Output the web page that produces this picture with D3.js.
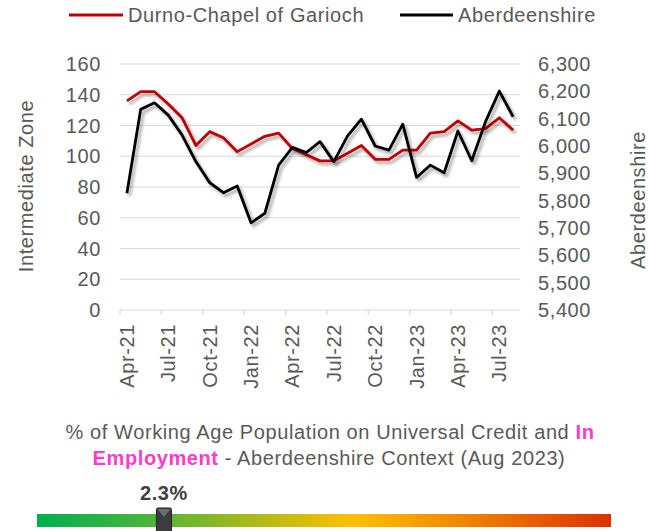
<!DOCTYPE html>
<html><head><meta charset="utf-8">
<script src="https://cdn.jsdelivr.net/npm/d3@7"></script>
<style>
body{margin:0;background:#fff;}
text{font-family:Arial,"Liberation Sans",sans-serif;letter-spacing:0.6px;}
</style></head>
<body><svg id="c" width="649" height="531"></svg>
<script>
const months = ["Apr-21","May-21","Jun-21","Jul-21","Aug-21","Sep-21","Oct-21","Nov-21","Dec-21","Jan-22","Feb-22","Mar-22","Apr-22","May-22","Jun-22","Jul-22","Aug-22","Sep-22","Oct-22","Nov-22","Dec-22","Jan-23","Feb-23","Mar-23","Apr-23","May-23","Jun-23","Jul-23","Aug-23"];
const zoneValues = [136,142,142,134,125,107,116,112,103,108,113,115,105,101,97,97,102,107,98,98,104,104,115,116,123,117,118,125,117];
const shireValues = [5827,6134,6158,6113,6040,5943,5866,5829,5854,5719,5754,5930,5995,5976,6016,5943,6037,6098,6000,5985,6080,5885,5930,5902,6055,5946,6089,6201,6107];
const leftTicks = [0,20,40,60,80,100,120,140,160];
const rightTicks = [5400,5500,5600,5700,5800,5900,6000,6100,6200,6300];
const seriesNames = ["Durno-Chapel of Garioch","Aberdeenshire"];
const seriesColors = ["#C00000","#000000"];
const gaugeValue = 2.3;
const gaugeDomain = [0, 10.4];

const svg = d3.select("#c");
const grey = "#595959";
const FS = "20px";
const L = 120, R = 520, T = 64, B = 310;

const defs = svg.append("defs");
const f = defs.append("filter").attr("id","sh").attr("x","-10%").attr("y","-10%").attr("width","120%").attr("height","130%");
f.append("feDropShadow").attr("dx",2.5).attr("dy",3).attr("stdDeviation",1.8).attr("flood-color","#000").attr("flood-opacity",0.35);

const x = d3.scaleBand().domain(months).range([L,R]).padding(0);
const yL = d3.scaleLinear().domain([0,160]).range([B,T]);
const yR = d3.scaleLinear().domain([5400,6300]).range([B,T]);

// gridlines
svg.append("g").selectAll("line").data(leftTicks.filter(d=>d>0)).join("line")
  .attr("x1",L).attr("x2",R).attr("y1",d=>yL(d)).attr("y2",d=>yL(d))
  .attr("stroke","#D9D9D9").attr("stroke-width",1.2);

// left axis labels
svg.append("g").selectAll("text").data(leftTicks).join("text")
  .attr("x",101).attr("y",d=>yL(d)).attr("dy","0.35em").attr("text-anchor","end")
  .attr("fill",grey).style("font-size",FS).text(d=>d);
// right axis labels
const fmt = d3.format(",");
svg.append("g").selectAll("text").data(rightTicks).join("text")
  .attr("x",538).attr("y",d=>yR(d)).attr("dy","0.35em").attr("text-anchor","start")
  .attr("fill",grey).style("font-size",FS).text(d=>fmt(d));

// x axis line & ticks
svg.append("line").attr("x1",L).attr("x2",R).attr("y1",B).attr("y2",B).attr("stroke","#D9D9D9").attr("stroke-width",1.2);
const tickIdx = months.map((m,i)=>i).filter(i=>i%3===0);
svg.append("g").selectAll("line").data(tickIdx).join("line")
  .attr("x1",i=>x(months[i])).attr("x2",i=>x(months[i])).attr("y1",B).attr("y2",B+5)
  .attr("stroke","#D9D9D9").attr("stroke-width",1.2);
svg.append("g").selectAll("text").data(tickIdx).join("text")
  .attr("transform",i=>`translate(${x(months[i])+x.bandwidth()/2},324) rotate(-90)`)
  .attr("dy","0.35em").attr("text-anchor","end").attr("fill",grey).style("font-size",FS)
  .text(i=>months[i]);

// axis titles
svg.append("text").attr("transform","translate(26,186) rotate(-90)").attr("dy","0.35em")
  .attr("text-anchor","middle").attr("fill",grey).style("font-size",FS).text("Intermediate Zone");
svg.append("text").attr("transform","translate(638,200) rotate(-90)").attr("dy","0.35em")
  .attr("text-anchor","middle").attr("fill",grey).style("font-size",FS).text("Aberdeenshire");

// lines
const cx = (d,i)=>x(months[i])+x.bandwidth()/2;
const lineL = d3.line().x(cx).y(d=>yL(d));
const lineR = d3.line().x(cx).y(d=>yR(d));
svg.append("path").datum(zoneValues).attr("d",lineL).attr("fill","none").attr("stroke",seriesColors[0])
  .attr("stroke-width",2.8).attr("stroke-linejoin","round").attr("filter","url(#sh)");
svg.append("path").datum(shireValues).attr("d",lineR).attr("fill","none").attr("stroke",seriesColors[1])
  .attr("stroke-width",2.8).attr("stroke-linejoin","round").attr("filter","url(#sh)");

// legend
const lg = [{x1:69,x2:123,tx:128},{x1:400,x2:453,tx:458}];
lg.forEach((p,i)=>{
  svg.append("line").attr("x1",p.x1).attr("x2",p.x2).attr("y1",15).attr("y2",15)
    .attr("stroke",seriesColors[i]).attr("stroke-width",3);
  svg.append("text").attr("x",p.tx).attr("y",15).attr("dy","0.35em").attr("fill",grey)
    .style("font-size",FS).text(seriesNames[i]);
});

// bottom title
const t1 = svg.append("text").attr("x",330).attr("y",439).attr("text-anchor","middle").attr("fill",grey).style("font-size",FS);
t1.append("tspan").text("% of Working Age Population on Universal Credit and ");
t1.append("tspan").attr("fill","#FF3BCC").attr("font-weight","bold").text("In");
const t2 = svg.append("text").attr("x",329).attr("y",465).attr("text-anchor","middle").attr("fill",grey).style("font-size",FS);
t2.append("tspan").attr("fill","#FF3BCC").attr("font-weight","bold").text("Employment");
t2.append("tspan").text(" - Aberdeenshire Context (Aug 2023)");

// gauge bar
const gx = d3.scaleLinear().domain(gaugeDomain).range([37,611]);
const grad = defs.append("linearGradient").attr("id","gg").attr("x1","0%").attr("x2","100%");
[["0%","#00B050"],["20%","#4DB43A"],["38%","#AEBA18"],["55%","#FFC000"],["75%","#F08400"],["100%","#DD3000"]]
  .forEach(s=>grad.append("stop").attr("offset",s[0]).attr("stop-color",s[1]));
svg.append("rect").attr("x",gx(gaugeDomain[0])).attr("y",514).attr("width",gx(gaugeDomain[1])-gx(gaugeDomain[0])).attr("height",13).attr("fill","url(#gg)");
const mx = gx(gaugeValue);
svg.append("rect").attr("x",mx-7.5).attr("y",508).attr("width",15).attr("height",26).attr("rx",1.5)
  .attr("fill","#3C3C3C").attr("stroke","#222").attr("stroke-width",1);
svg.append("path").attr("d",`M${mx-6.5},509 L${mx+6.5},509 L${mx},517 Z`).attr("fill","#6E6E6E");
svg.append("text").attr("x",mx).attr("y",500).attr("text-anchor","middle").attr("fill","#404040")
  .attr("font-weight","bold").style("font-size","20px").text(gaugeValue+"%");
</script></body></html>
